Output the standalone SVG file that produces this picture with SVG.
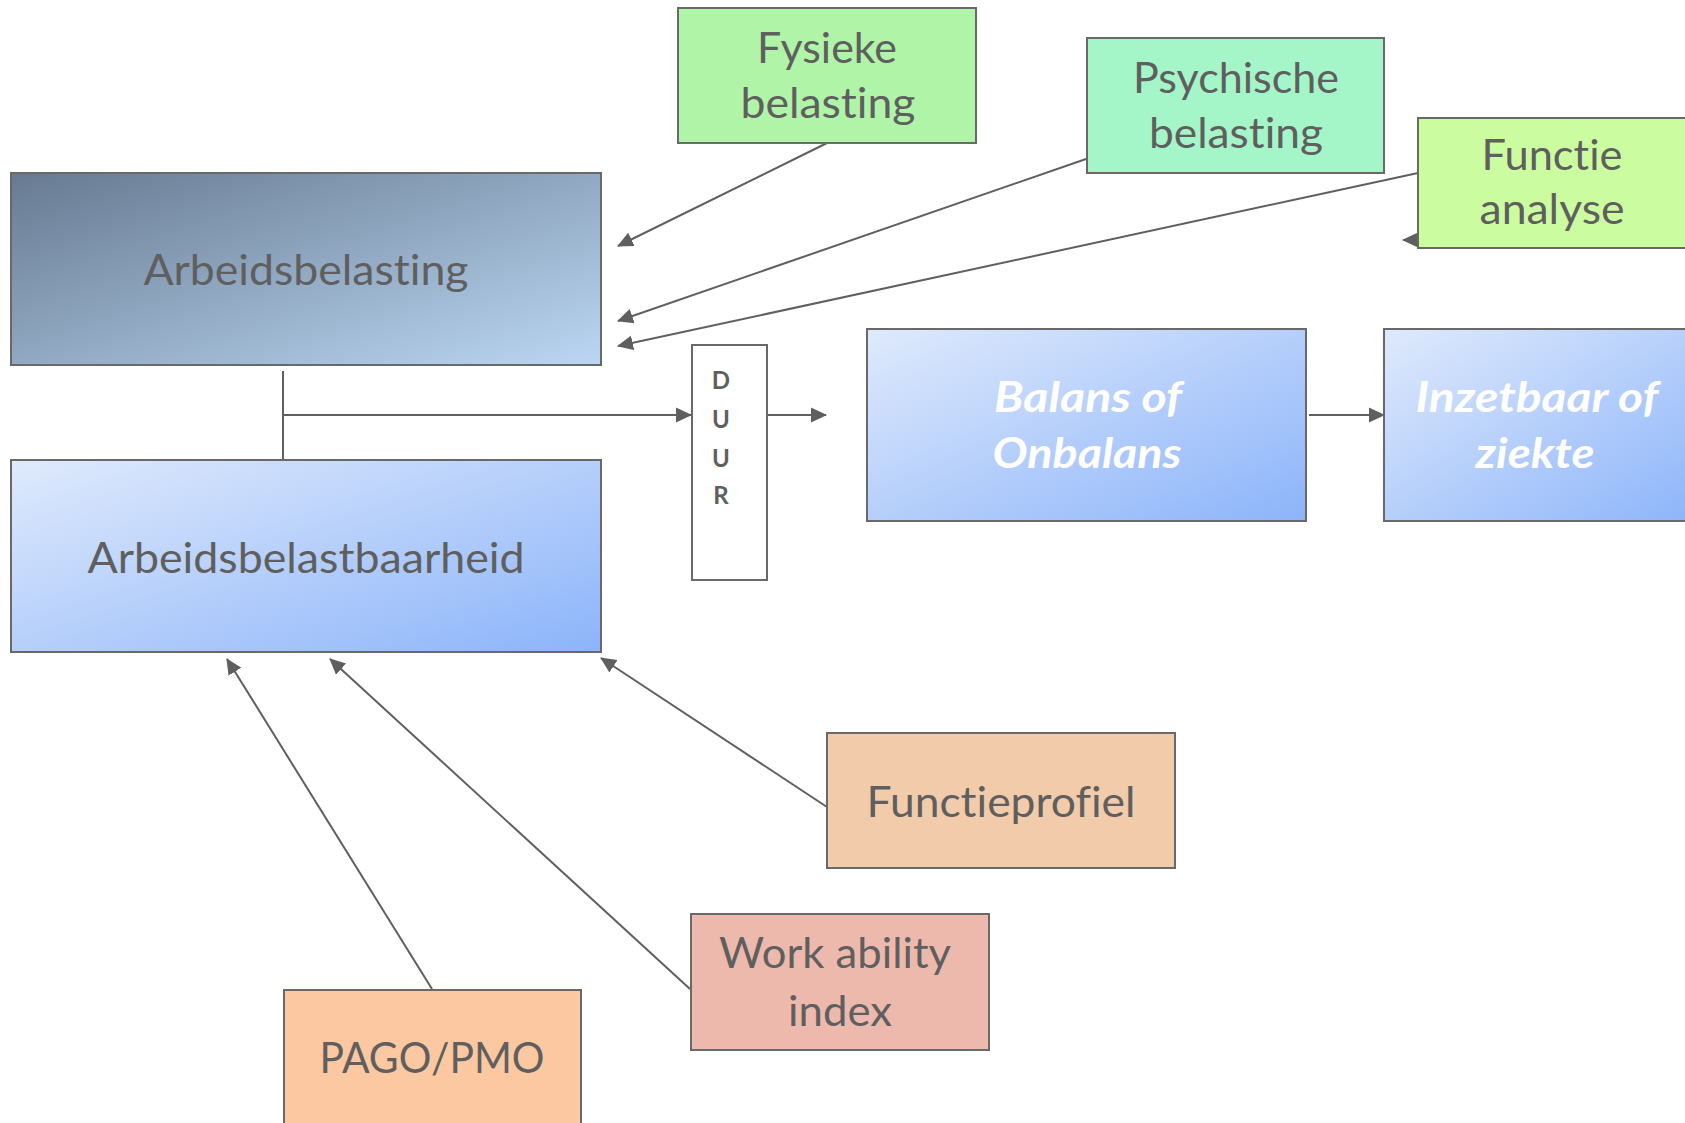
<svg xmlns="http://www.w3.org/2000/svg" width="1685" height="1123" viewBox="0 0 1685 1123">
  <defs>
    <linearGradient id="gradLoad" x1="0" y1="0" x2="1" y2="1">
      <stop offset="0" stop-color="#677a91"/>
      <stop offset="1" stop-color="#bbd7f3"/>
    </linearGradient>
    <linearGradient id="gradBlue" x1="0" y1="0" x2="1" y2="1">
      <stop offset="0" stop-color="#dfeafc"/>
      <stop offset="1" stop-color="#8cb4fa"/>
    </linearGradient>
    <marker id="arrow" markerWidth="17" markerHeight="16" refX="15" refY="8" orient="auto" markerUnits="userSpaceOnUse">
      <path d="M0,0.5 L16,8 L0,15.5 Z" fill="#5f5f5f"/>
    </marker>
    <style>
      text { font-variant-ligatures: none; }
      .box { stroke: #696969; stroke-width: 2; }
      .lbl { font-family: Lato, "Open Sans", "Liberation Sans", sans-serif; font-size: 42px; fill: #5f5f5f; text-anchor: middle; }
      .wlbl { font-family: Lato, "Open Sans", "Liberation Sans", sans-serif; font-size: 42px; fill: #ffffff; font-weight: bold; font-style: italic; text-anchor: middle; }
      .duur { font-family: Lato, "Open Sans", "Liberation Sans", sans-serif; font-size: 24px; fill: #5f5f5f; font-weight: bold; text-anchor: middle; }
      .conn { stroke: #5f5f5f; stroke-width: 2; fill: none; }
    </style>
  </defs>

  <rect width="1685" height="1123" fill="#ffffff"/>

  <!-- connectors -->
  <g id="connectors">
    <line class="conn" x1="827" y1="143" x2="618" y2="246" marker-end="url(#arrow)"/>
    <line class="conn" x1="1086" y1="159" x2="618" y2="321" marker-end="url(#arrow)"/>
    <line class="conn" x1="1418" y1="173" x2="618" y2="346" marker-end="url(#arrow)"/>
    <line class="conn" x1="1440" y1="240" x2="1403" y2="240" marker-end="url(#arrow)"/>
    <line class="conn" x1="283" y1="371" x2="283" y2="460"/>
    <line class="conn" x1="283" y1="415" x2="691" y2="415" marker-end="url(#arrow)"/>
    <line class="conn" x1="767" y1="415" x2="826" y2="415" marker-end="url(#arrow)"/>
    <line class="conn" x1="1309" y1="415" x2="1384" y2="415" marker-end="url(#arrow)"/>
    <line class="conn" x1="827" y1="807" x2="601" y2="658" marker-end="url(#arrow)"/>
    <line class="conn" x1="690" y1="989" x2="330" y2="659" marker-end="url(#arrow)"/>
    <line class="conn" x1="432" y1="989" x2="227" y2="659" marker-end="url(#arrow)"/>
  </g>

  <!-- load -->
  <g id="arbeidsbelasting">
    <rect class="box" x="11" y="173" width="590" height="192" fill="url(#gradLoad)"/>
    <text class="lbl" x="306" y="285" textLength="325" lengthAdjust="spacingAndGlyphs">Arbeidsbelasting</text>
  </g>

  <!-- capacity -->
  <g id="arbeidsbelastbaarheid">
    <rect class="box" x="11" y="460" width="590" height="192" fill="url(#gradBlue)"/>
    <text class="lbl" x="306" y="573" textLength="437" lengthAdjust="spacingAndGlyphs">Arbeidsbelastbaarheid</text>
  </g>

  <g id="fysieke">
    <rect class="box" x="678" y="8" width="298" height="135" fill="#b0f4a8"/>
    <text class="lbl" x="827" y="63" textLength="140" lengthAdjust="spacingAndGlyphs">Fysieke</text>
    <text class="lbl" x="828" y="118" textLength="175" lengthAdjust="spacingAndGlyphs">belasting</text>
  </g>

  <g id="psychische">
    <rect class="box" x="1087" y="38" width="297" height="135" fill="#a4f6c9"/>
    <text class="lbl" x="1236" y="93" textLength="206" lengthAdjust="spacingAndGlyphs">Psychische</text>
    <text class="lbl" x="1236" y="148" textLength="174" lengthAdjust="spacingAndGlyphs">belasting</text>
  </g>

  <g id="functie-analyse">
    <rect class="box" x="1418" y="118" width="280" height="130" fill="#ccfca0"/>
    <text class="lbl" x="1552" y="170" textLength="141" lengthAdjust="spacingAndGlyphs">Functie</text>
    <text class="lbl" x="1552" y="224" textLength="145" lengthAdjust="spacingAndGlyphs">analyse</text>
  </g>

  <g id="duur">
    <rect class="box" x="692" y="345" width="75" height="235" fill="#ffffff"/>
    <text class="duur" x="721" y="389">D</text>
    <text class="duur" x="721" y="428">U</text>
    <text class="duur" x="721" y="467">U</text>
    <text class="duur" x="721" y="504">R</text>
  </g>

  <g id="balans">
    <rect class="box" x="867" y="329" width="439" height="192" fill="url(#gradBlue)"/>
    <text class="wlbl" x="1088" y="412" textLength="188" lengthAdjust="spacingAndGlyphs">Balans of</text>
    <text class="wlbl" x="1087" y="468" textLength="189" lengthAdjust="spacingAndGlyphs">Onbalans</text>
  </g>

  <g id="inzetbaar">
    <rect class="box" x="1384" y="329" width="320" height="192" fill="url(#gradBlue)"/>
    <text class="wlbl" x="1537" y="412" textLength="243" lengthAdjust="spacingAndGlyphs">Inzetbaar of</text>
    <text class="wlbl" x="1535" y="468" textLength="119" lengthAdjust="spacingAndGlyphs">ziekte</text>
  </g>

  <g id="functieprofiel">
    <rect class="box" x="827" y="733" width="348" height="135" fill="#f2cbaa"/>
    <text class="lbl" x="1001" y="817" textLength="269" lengthAdjust="spacingAndGlyphs">Functieprofiel</text>
  </g>

  <g id="work-ability">
    <rect class="box" x="691" y="914" width="298" height="136" fill="#eeb9ad"/>
    <text class="lbl" x="835" y="968" textLength="232" lengthAdjust="spacingAndGlyphs">Work ability</text>
    <text class="lbl" x="840" y="1026" textLength="104" lengthAdjust="spacingAndGlyphs">index</text>
  </g>

  <g id="pago-pmo">
    <rect class="box" x="284" y="990" width="297" height="150" fill="#fbc8a1"/>
    <text class="lbl" x="432" y="1073" textLength="225" lengthAdjust="spacingAndGlyphs">PAGO/PMO</text>
  </g>
</svg>
